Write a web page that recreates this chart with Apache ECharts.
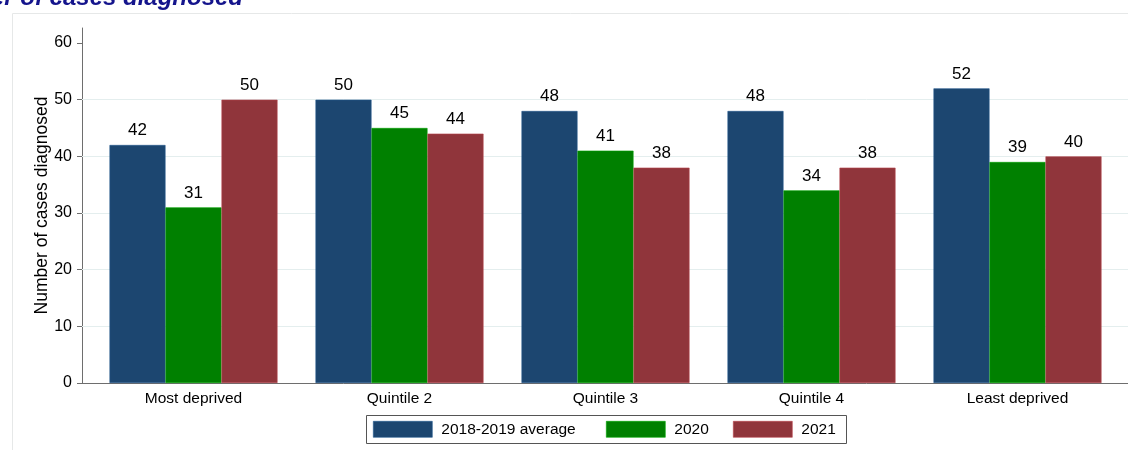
<!DOCTYPE html>
<html>
<head>
<meta charset="utf-8">
<script src="https://cdn.jsdelivr.net/npm/echarts@6/dist/echarts.min.js"></script>
<style>
html,body{margin:0;padding:0;background:#fff;}
#c{width:1128px;height:450px;}
</style>
</head>
<body>
<div id="c"></div>
<script>
const categories = ['Most deprived', 'Quintile 2', 'Quintile 3', 'Quintile 4', 'Least deprived'];
const seriesNames = ['2018-2019 average', '2020', '2021'];
const avg1819 = [42, 50, 48, 48, 52];
const y2020 = [31, 45, 41, 34, 39];
const y2021 = [50, 44, 38, 38, 40];
const yTicks = [0, 10, 20, 30, 40, 50, 60];
const gridValues = [10, 20, 30, 40, 50];
const yTitle = 'Number of cases diagnosed';
const chartTitle = 'Number of cases diagnosed';

const colors = ['#1c4670', '#008000', '#90353b'];
const FONT = 'Liberation Sans, Arial, sans-serif';
const YMAX = 62.65;
const legendLefts = [373, 606, 733];

const chart = echarts.init(document.getElementById('c'), null, {renderer: 'canvas'});

function barSeries(name, data, color) {
  return {
    name: name, type: 'bar', xAxisIndex: 1, yAxisIndex: 1,
    data: data, barWidth: 56, barGap: '0%', z: 2,
    itemStyle: {color: color, borderColor: echarts.color.lift(color, -0.25), borderWidth: 0.6},
    label: {show: true, position: 'top', distance: 6, color: '#000', fontFamily: FONT, fontSize: 17},
    emphasis: {disabled: true}
  };
}

chart.setOption({
  animation: false,
  backgroundColor: '#fff',
  color: colors,
  graphic: [
    {type: 'rect', left: 10, top: 11, z: -10, silent: true,
     shape: {width: 1300, height: 600},
     style: {fill: 'none', stroke: '#e6e8e8', lineWidth: 1}},
    {type: 'rect', left: 366, top: 415, z: 1, silent: true,
     shape: {width: 480, height: 28},
     style: {fill: '#fff', stroke: '#555', lineWidth: 1}},
    {type: 'text', x: 243, y: 10, silent: true,
     style: {text: chartTitle, align: 'right', verticalAlign: 'bottom',
             font: 'italic bold 24px ' + FONT, fill: '#14148c'}}
  ],
  grid: [
    {left: 82, right: -2, top: 28, bottom: 67},
    {left: 90.5, right: 7.5, top: 28, bottom: 67}
  ],
  legend: seriesNames.map((n, i) => ({
    data: [n],
    left: legendLefts[i], top: 421, z: 5,
    itemWidth: 59, itemHeight: 16,
    padding: 0,
    icon: 'rect',
    selectedMode: false,
    itemStyle: {borderColor: echarts.color.lift(colors[i], -0.3), borderWidth: 0.6},
    textStyle: {fontFamily: FONT, fontSize: 15.5, color: '#000', padding: [0, 0, 0, 4]}
  })),
  xAxis: [
    {gridIndex: 0, type: 'value', min: 0, max: 1,
     axisLine: {show: true, lineStyle: {color: '#6e6e6e', width: 1}},
     axisTick: {show: false}, axisLabel: {show: false}, splitLine: {show: false}},
    {gridIndex: 1, type: 'category', data: categories,
     axisLine: {show: false}, axisTick: {show: false},
     axisLabel: {color: '#000', fontFamily: FONT, fontSize: 15.5, margin: 8}}
  ],
  yAxis: [
    {gridIndex: 0, type: 'value', min: 0, max: YMAX, interval: 10,
     name: yTitle, nameLocation: 'middle', nameGap: 31, nameMoveOverlap: false,
     nameTextStyle: {fontFamily: FONT, fontSize: 17.5, color: '#000'},
     axisLine: {show: true, lineStyle: {color: '#6e6e6e', width: 1}},
     axisTick: {show: true, length: 5, customValues: yTicks, lineStyle: {color: '#6e6e6e'}},
     axisLabel: {color: '#000', fontFamily: FONT, fontSize: 16, margin: 10,
                 customValues: yTicks},
     splitLine: {show: false}},
    {gridIndex: 1, type: 'value', min: 0, max: YMAX, interval: 10, show: false,
     splitLine: {show: false}}
  ],
  series: [
    {type: 'line', xAxisIndex: 0, yAxisIndex: 0, data: [[0, 0]], z: 0,
     symbol: 'none', lineStyle: {opacity: 0}, silent: true,
     markLine: {silent: true, symbol: 'none', z: 1, animation: false,
                label: {show: false},
                lineStyle: {color: '#e4eeee', type: 'solid', width: 1},
                data: gridValues.map(v => ({yAxis: v}))}},
    barSeries(seriesNames[0], avg1819, colors[0]),
    barSeries(seriesNames[1], y2020, colors[1]),
    barSeries(seriesNames[2], y2021, colors[2])
  ]
});
</script>
</body>
</html>
